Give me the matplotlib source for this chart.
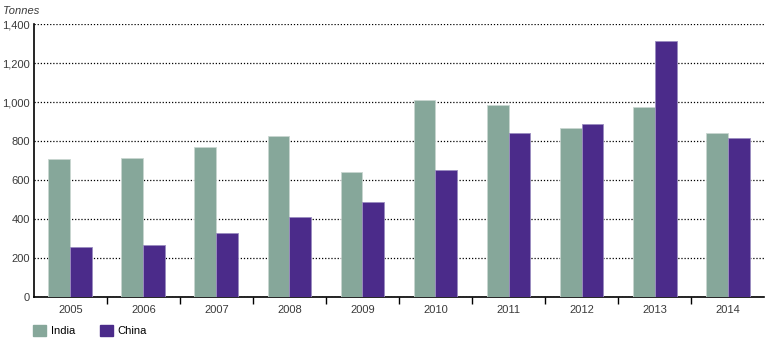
import numpy as np
import matplotlib.pyplot as plt
from matplotlib.patches import Patch

plt.rcParams['font.family'] = ['Liberation Sans', 'DejaVu Sans']

# Annual demand, tonnes
years = ['2005', '2006', '2007', '2008', '2009', '2010', '2011', '2012', '2013', '2014']
india = [707, 713, 769, 826, 641, 1010, 985, 867, 974, 841]
china = [256, 267, 328, 410, 487, 651, 841, 887, 1313, 815]

india_color = '#86a79a'
china_color = '#4b2b8a'

fig = plt.figure(figsize=(7.68, 3.43), dpi=100)
ax = fig.add_axes([0.044, 0.134, 0.951, 0.796])

x = np.arange(len(years))
w = 0.3
ax.bar(x - w / 2, india, w, color=india_color, edgecolor='#c9d6d0', linewidth=0.6, zorder=3)
ax.bar(x + w / 2, china, w, color=china_color, edgecolor='#9a8cc0', linewidth=0.6, zorder=3)

ax.set_xlim(-0.5, len(years) - 0.5)
ax.set_ylim(0, 1400)
ax.set_yticks(np.arange(0, 1401, 200))
ax.set_yticklabels(['{:,}'.format(v) for v in range(0, 1401, 200)])
ax.yaxis.grid(True, linestyle=(0, (1, 1.5)), color='black', linewidth=0.9, zorder=0)
ax.tick_params(axis='y', length=0, labelsize=8, pad=3, colors='#3a3a3a')

# year labels centred, tick marks between categories
ax.set_xticks(x)
ax.set_xticklabels(years)
ax.tick_params(axis='x', length=0, labelsize=8, pad=6, colors='#3a3a3a')
ax.set_xticks(np.arange(0.5, len(years) - 0.5), minor=True)
ax.tick_params(axis='x', which='minor', length=5, width=1, direction='out', color='black')

for s in ['top', 'right']:
    ax.spines[s].set_visible(False)
ax.spines['left'].set_linewidth(1.2)
ax.spines['bottom'].set_linewidth(1.2)

fig.text(0.004, 0.968, 'Tonnes', fontsize=8, style='italic', color='#3a3a3a', va='center')

handles = [Patch(color=india_color, label='India'), Patch(color=china_color, label='China')]
fig.legend(handles=handles, loc='lower left', bbox_to_anchor=(0.03, -0.01), ncol=2,
           frameon=False, fontsize=8, handlelength=1.2, handleheight=1.2,
           columnspacing=2.2, handletextpad=0.4)

fig.savefig('out.png', dpi=100)
